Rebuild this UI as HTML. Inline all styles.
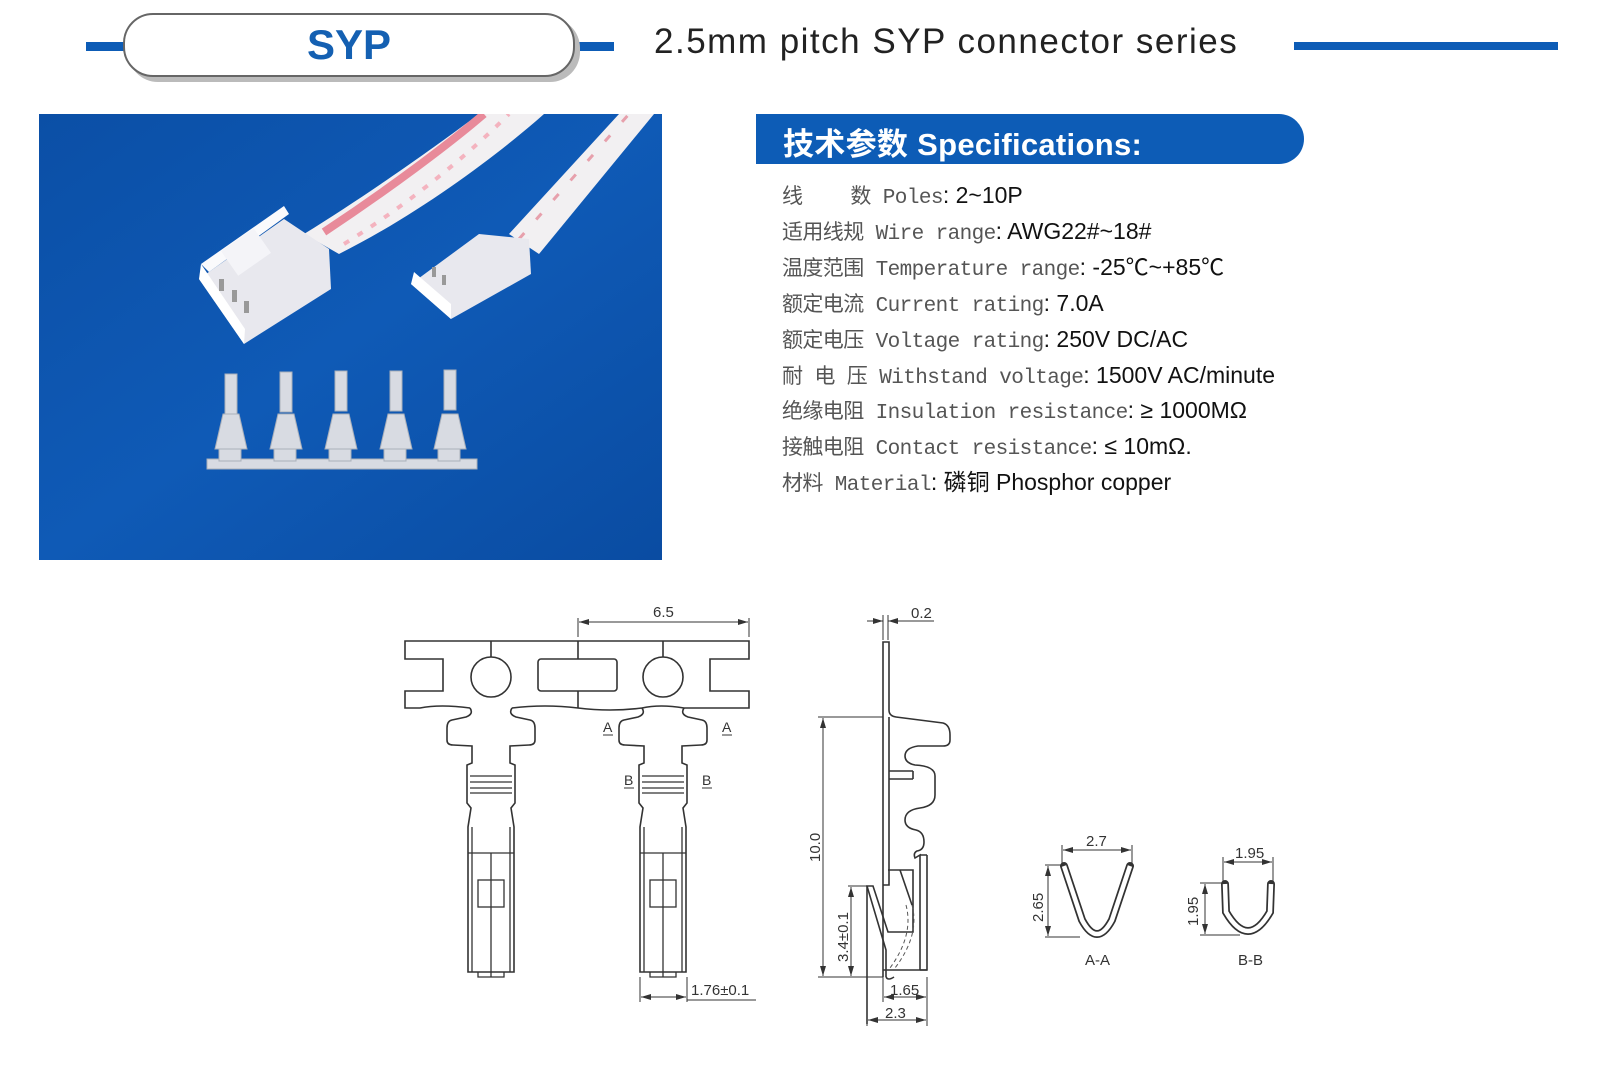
<!DOCTYPE html>
<html><head><meta charset="utf-8">
<style>
html,body{margin:0;padding:0;background:#fff;}
body{width:1600px;height:1066px;position:relative;overflow:hidden;font-family:"Liberation Sans","Noto Sans CJK SC",sans-serif;}
.spec{position:absolute;left:782px;font-size:23px;line-height:30px;height:30px;white-space:nowrap;color:#111;}
.spec .l{font-family:"Liberation Mono","Noto Sans CJK SC",monospace;color:#555;font-size:21px;letter-spacing:-0.6px;line-height:30px;}
</style></head><body>
<div style="position:absolute;left:86px;top:42px;width:40px;height:9px;background:#0d5cb6"></div>
<div style="position:absolute;left:574px;top:42px;width:40px;height:9px;background:#0d5cb6"></div>
<div style="position:absolute;left:128px;top:18px;width:452px;height:64px;border-radius:30px;background:#bbb"></div>
<div style="position:absolute;left:123px;top:13px;width:452px;height:64px;border:2px solid #666;border-radius:30px;background:#fff;box-sizing:border-box;text-align:center;font-weight:bold;font-size:42px;line-height:60px;color:#1460b2">SYP</div>
<div style="position:absolute;left:654px;top:22px;font-size:35px;color:#222;letter-spacing:1.5px">2.5mm pitch SYP connector series</div>
<div style="position:absolute;left:1294px;top:42px;width:264px;height:8px;background:#0d5cb6"></div>

<svg style="position:absolute;left:39px;top:114px" width="623" height="446" viewBox="0 0 623 446">
<defs><linearGradient id="bg" x1="0" y1="0" x2="1" y2="1"><stop offset="0" stop-color="#0b4fa6"/><stop offset="0.5" stop-color="#0f5ab6"/><stop offset="1" stop-color="#0a4ca2"/></linearGradient></defs>
<rect width="623" height="446" fill="url(#bg)"/>
<path d="M265,120 C330,80 400,30 440,0 L505,0 C460,40 380,100 300,140 Z" fill="#f2f0f2"/>
<path d="M285,118 C350,75 410,30 445,0" stroke="#e88a9a" stroke-width="8" fill="none"/>
<path d="M305,130 C370,90 430,40 470,0" stroke="#f4b3bf" stroke-width="4" fill="none" stroke-dasharray="6 10"/>
<polygon points="160,165 245,105 290,135 292,175 205,230" fill="#e8e8ee"/>
<polygon points="160,165 205,230 206,215 162,150" fill="#fff"/>
<polygon points="162,150 245,92 250,100 170,158" fill="#fafafc"/>
<rect x="187" y="123" width="40" height="30" fill="#f4f4f8" transform="rotate(-35 207 138)"/>
<rect x="180" y="165" width="5" height="12" fill="#999"/><rect x="193" y="176" width="5" height="12" fill="#999"/><rect x="205" y="187" width="5" height="12" fill="#999"/>
<path d="M470,120 L580,0 L615,0 L500,140 Z" fill="#f2f0f2"/>
<path d="M480,125 L590,0" stroke="#e7a0ac" stroke-width="3" fill="none" stroke-dasharray="8 18"/>
<polygon points="372,170 440,120 490,125 492,160 412,205" fill="#e8e8ee"/>
<polygon points="372,170 412,205 412,190 375,158" fill="#fff"/>
<rect x="393" y="153" width="4" height="10" fill="#999"/><rect x="403" y="161" width="4" height="10" fill="#999"/>
<g fill="#d8dbe2" stroke="#aab0ba" stroke-width="1">
<rect x="168" y="345" width="270" height="10"/>
<rect x="186" y="260" width="12" height="40"/><rect x="241" y="258" width="12" height="40"/><rect x="296" y="257" width="12" height="40"/><rect x="351" y="257" width="12" height="40"/><rect x="405" y="256" width="12" height="40"/>
<polygon points="184,300 200,300 208,335 176,335"/><polygon points="239,300 255,300 263,335 231,335"/><polygon points="294,300 310,300 318,335 286,335"/><polygon points="349,300 365,300 373,335 341,335"/><polygon points="403,300 419,300 427,335 395,335"/>
<rect x="180" y="335" width="22" height="12"/><rect x="235" y="335" width="22" height="12"/><rect x="290" y="335" width="22" height="12"/><rect x="345" y="335" width="22" height="12"/><rect x="399" y="335" width="22" height="12"/>
</g>
</svg>

<div style="position:absolute;left:756px;top:114px;width:548px;height:50px;background:#0d5cb6;border-radius:0 25px 25px 0"></div>
<div style="position:absolute;left:783px;top:119px;font-size:31px;font-weight:bold;color:#fff;letter-spacing:0.3px">技术参数 Specifications:</div>

<div class="spec" style="top:180px"><span class="l">线&nbsp;&nbsp;&nbsp;&nbsp;数 Poles</span>: 2~10P</div>
<div class="spec" style="top:216px"><span class="l">适用线规 Wire range</span>: AWG22#~18#</div>
<div class="spec" style="top:252px"><span class="l">温度范围 Temperature range</span>: -25℃~+85℃</div>
<div class="spec" style="top:288px"><span class="l">额定电流 Current rating</span>: 7.0A</div>
<div class="spec" style="top:324px"><span class="l">额定电压 Voltage rating</span>: 250V DC/AC</div>
<div class="spec" style="top:360px"><span class="l">耐 电 压 Withstand voltage</span>: 1500V AC/minute</div>
<div class="spec" style="top:395px"><span class="l">绝缘电阻 Insulation resistance</span>: ≥ 1000MΩ</div>
<div class="spec" style="top:431px"><span class="l">接触电阻 Contact resistance</span>: ≤ 10mΩ.</div>
<div class="spec" style="top:467px"><span class="l">材料 Material</span>: 磷铜 Phosphor copper</div>

<svg style="position:absolute;left:0;top:0" width="1600" height="1066" viewBox="0 0 1600 1066">
<defs>
<marker id="ar" markerWidth="10" markerHeight="6" refX="10" refY="3" orient="auto-start-reverse"><path d="M0,0 L10,3 L0,6 Z" fill="#333"/></marker>
<g id="term">
<path d="M470,708 Q474,714 466,717 L452,720 Q447,721 447,728 L447,740 Q447,745 453,745 L472,746 L472,763 L467,765 L467,803 L471,808 L468,827 L468,972 L514,972 L514,827 L511,808 L515,803 L515,765 L510,763 L510,746 L529,745 Q535,745 535,740 L535,728 Q535,721 530,720 L516,717 Q508,714 512,708" fill="none" stroke="#333" stroke-width="1.6"/>
<path d="M470,776 H512 M470,782 H512 M470,788 H512 M470,793 H512 M472,827 V972 M510,827 V972 M468,853 H514 M491,853 V977 M478,972 V977 H504 V972" fill="none" stroke="#333" stroke-width="1.3"/>
<rect x="478" y="880" width="26" height="27" fill="none" stroke="#333" stroke-width="1.3"/>
</g>
</defs>
<g fill="none" stroke="#333" stroke-width="1.6">
<path d="M470,708 Q440,704 420,708 L405,708 L405,691 L443,691 L443,659 L405,659 L405,641 L749,641 L749,659 L710,659 L710,691 L749,691 L749,708 L684,708 Q660,704 642,708"/>
<path d="M512,708 Q545,704 578,708 Q610,712 642,708"/>
<circle cx="491" cy="677" r="20"/><circle cx="663" cy="677" r="20"/>
<path d="M491,641 V657 M663,641 V657 M578,641 V659 M578,691 V708"/>
<rect x="538" y="659" width="79" height="32" rx="3"/>
</g>
<use href="#term"/>
<use href="#term" transform="translate(172,0)"/>
<g stroke="#333" stroke-width="1" fill="none">
<path d="M578,618 V637 M749,618 V637"/>
<line x1="579" y1="622" x2="748" y2="622" marker-start="url(#ar)" marker-end="url(#ar)"/>
<path d="M640,977 V1002 M687,977 V1002 M687,1000 H756"/>
<line x1="641" y1="997" x2="686" y2="997" marker-start="url(#ar)" marker-end="url(#ar)"/>
<path d="M603,735 H613 M722,735 H732 M624,788 H634 M702,788 H712"/>
</g>
<g font-family="Liberation Sans, sans-serif" font-size="15" fill="#333">
<text x="653" y="617">6.5</text>
<text x="603" y="732" font-size="14">A</text><text x="722" y="732" font-size="14">A</text>
<text x="624" y="785" font-size="14">B</text><text x="702" y="785" font-size="14">B</text>
<text x="691" y="995">1.76±0.1</text>
</g>

<g fill="none" stroke="#333" stroke-width="1.6">
<path d="M883,977 V642 H889 V710 Q889,716 896,717 L943,723 Q950,725 950,735 L950,740 Q950,746 943,746 L918,746 Q905,748 905,756 Q905,763 915,765 Q935,766 935,776 L935,795 Q935,806 920,808 Q905,810 905,820 Q905,828 916,830 Q924,832 924,842 Q924,850 917,851 Q913,853 915,858 L920,855 V970 M927,855 V970 L920,970 M920,855 H927"/>
<path d="M889,717 V885 H883"/>
<path d="M888,870 H913 V932 H888 L873,886 H867 L886,950 L886,977"/>
<path d="M900,870 L912,905"/>
<path d="M883,970 H927"/>
<path d="M886,977 Q888,981 894,977"/>
<path d="M867,886 V1024"/>
</g>
<path d="M912,905 Q920,935 895,968 M906,905 Q914,935 890,968" fill="none" stroke="#555" stroke-width="1" stroke-dasharray="4 3"/>
<g stroke="#333" stroke-width="1.6" fill="none">
<path d="M889,771 H913 M889,779 H913 M913,771 V779"/>
</g>
<g stroke="#333" stroke-width="1" fill="none">
<path d="M883,615 V640 M888,615 V640"/>
<line x1="867" y1="621" x2="883" y2="621" marker-end="url(#ar)"/>
<line x1="934" y1="621" x2="888" y2="621" marker-end="url(#ar)"/>
<path d="M818,717 H883 M818,977 H883 M848,886 H867"/>
<line x1="823" y1="718" x2="823" y2="976" marker-start="url(#ar)" marker-end="url(#ar)"/>
<line x1="851" y1="887" x2="851" y2="976" marker-start="url(#ar)" marker-end="url(#ar)"/>
<path d="M883,977 V1002 M927,977 V1026 M867,1000 V1026"/>
<line x1="884" y1="997" x2="926" y2="997" marker-start="url(#ar)" marker-end="url(#ar)"/>
<line x1="868" y1="1020" x2="926" y2="1020" marker-start="url(#ar)" marker-end="url(#ar)"/>
</g>
<g font-family="Liberation Sans, sans-serif" font-size="15" fill="#333">
<text x="911" y="618">0.2</text>
<text x="0" y="0" transform="translate(820,862) rotate(-90)">10.0</text>
<text x="0" y="0" transform="translate(848,962) rotate(-90)">3.4±0.1</text>
<text x="890" y="995">1.65</text>
<text x="885" y="1018">2.3</text>
</g>

<path d="M1064,866 L1082,920 Q1097,948 1112,920 L1130,866" fill="none" stroke="#333" stroke-width="8" stroke-linecap="round"/>
<path d="M1064,866 L1082,920 Q1097,948 1112,920 L1130,866" fill="none" stroke="#fff" stroke-width="4.5" stroke-linecap="butt"/>
<path d="M1225,884 L1226,912 Q1248,950 1270,912 L1271,884" fill="none" stroke="#333" stroke-width="8" stroke-linecap="round"/>
<path d="M1225,884 L1226,912 Q1248,950 1270,912 L1271,884" fill="none" stroke="#fff" stroke-width="4.5"/>
<g stroke="#333" stroke-width="1" fill="none">
<path d="M1062,845 V865 M1132,845 V865 M1045,865 H1062 M1045,937 H1080"/>
<line x1="1063" y1="850" x2="1131" y2="850" marker-start="url(#ar)" marker-end="url(#ar)"/>
<line x1="1048" y1="866" x2="1048" y2="936" marker-start="url(#ar)" marker-end="url(#ar)"/>
<path d="M1223,857 V883 M1273,857 V883 M1200,883 H1223 M1200,935 H1240"/>
<line x1="1224" y1="862" x2="1272" y2="862" marker-start="url(#ar)" marker-end="url(#ar)"/>
<line x1="1205" y1="884" x2="1205" y2="934" marker-start="url(#ar)" marker-end="url(#ar)"/>
</g>
<g font-family="Liberation Sans, sans-serif" font-size="15" fill="#333">
<text x="1086" y="846">2.7</text>
<text x="0" y="0" transform="translate(1043,922) rotate(-90)">2.65</text>
<text x="1085" y="965">A-A</text>
<text x="1235" y="858">1.95</text>
<text x="0" y="0" transform="translate(1198,926) rotate(-90)">1.95</text>
<text x="1238" y="965">B-B</text>
</g>
</svg>
</body></html>
